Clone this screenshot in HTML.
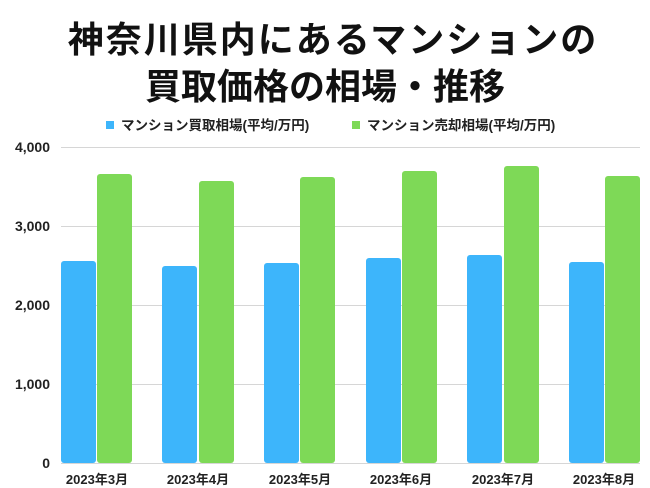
<!DOCTYPE html>
<html><head><meta charset="utf-8"><style>
body{margin:0;background:#fff;}
</style></head><body>
<svg width="650" height="488" xmlns="http://www.w3.org/2000/svg" style="display:block;font-family:'Liberation Sans','Noto Sans CJK JP',sans-serif;">
<rect width="650" height="488" fill="#fff"/>
<text x="333" y="52" text-anchor="middle" font-size="36" font-weight="bold" fill="#111" letter-spacing="2">神奈川県内にあるマンションの</text>
<text x="325" y="99" text-anchor="middle" font-size="36" font-weight="bold" fill="#111">買取価格の相場・推移</text>
<rect x="106" y="121" width="8" height="8" fill="#3db5fb"/>
<text x="121" y="130" font-size="13.5" font-weight="bold" fill="#222">マンション買取相場(平均/万円)</text>
<rect x="352" y="121" width="8" height="8" fill="#7ed957"/>
<text x="367" y="130" font-size="13.5" font-weight="bold" fill="#222">マンション売却相場(平均/万円)</text>
<g stroke="#d6d6d6" stroke-width="1">
<line x1="61" y1="147.5" x2="640" y2="147.5"/>
<line x1="61" y1="226.5" x2="640" y2="226.5"/>
<line x1="61" y1="305.5" x2="640" y2="305.5"/>
<line x1="61" y1="384.5" x2="640" y2="384.5"/>
</g>
<g font-size="14" font-weight="bold" fill="#222" text-anchor="end">
<text x="50" y="152">4,000</text>
<text x="50" y="231">3,000</text>
<text x="50" y="310">2,000</text>
<text x="50" y="389">1,000</text>
<text x="50" y="468">0</text>
</g>
<g fill="#3db5fb">
<rect x="61" y="261" width="35" height="202" rx="3"/>
<rect x="162" y="266" width="35" height="197" rx="3"/>
<rect x="264" y="263" width="35" height="200" rx="3"/>
<rect x="366" y="258" width="35" height="205" rx="3"/>
<rect x="467" y="255" width="35" height="208" rx="3"/>
<rect x="569" y="262" width="35" height="201" rx="3"/>
</g>
<g fill="#7ed957">
<rect x="97" y="174" width="35" height="289" rx="3"/>
<rect x="199" y="181" width="35" height="282" rx="3"/>
<rect x="300" y="177" width="35" height="286" rx="3"/>
<rect x="402" y="171" width="35" height="292" rx="3"/>
<rect x="504" y="166" width="35" height="297" rx="3"/>
<rect x="605" y="176" width="35" height="287" rx="3"/>
</g>
<line x1="61" y1="463.5" x2="640" y2="463.5" stroke="#d6d6d6"/>
<g font-size="13" font-weight="bold" fill="#222" text-anchor="middle">
<text x="97" y="484">2023年3月</text>
<text x="198" y="484">2023年4月</text>
<text x="300" y="484">2023年5月</text>
<text x="401" y="484">2023年6月</text>
<text x="503" y="484">2023年7月</text>
<text x="604" y="484">2023年8月</text>
</g>
</svg>
</body></html>
